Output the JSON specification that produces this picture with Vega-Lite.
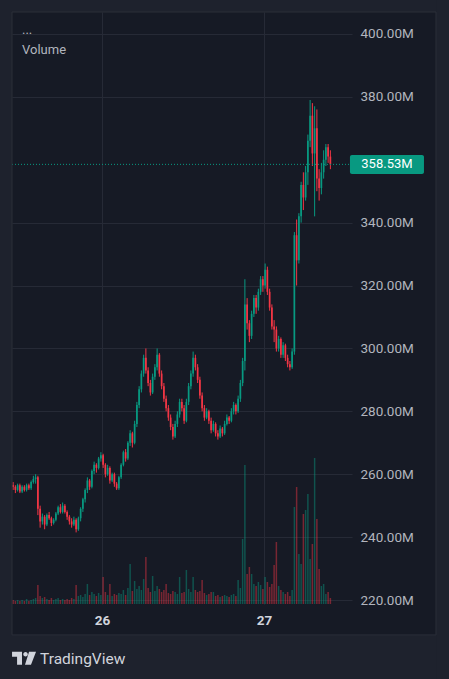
{
"$schema": "https://vega.github.io/schema/vega-lite/v6.json",
"width": 340, "height": 592,
"autosize": {"type": "none"},
"padding": {"left": 12, "top": 12, "right": 97, "bottom": 75},
"background": "#161a25",
"config": {"view": {"stroke": null}, "font": "Roboto", "scale": {"continuousPadding": 0}},
"data": {"values": [
{"t":"2024-01-25T10:50","o":256.5,"h":257.5,"l":255,"c":256,"v":4},
{"t":"2024-01-25T11:10","o":256,"h":256.5,"l":254,"c":255,"v":3},
{"t":"2024-01-25T11:30","o":255,"h":257,"l":254.5,"c":256.5,"v":4},
{"t":"2024-01-25T11:50","o":256.5,"h":257,"l":254,"c":254.5,"v":3},
{"t":"2024-01-25T12:10","o":254.5,"h":256.5,"l":254,"c":256,"v":4},
{"t":"2024-01-25T12:30","o":256,"h":256.5,"l":254.5,"c":255,"v":3},
{"t":"2024-01-25T12:50","o":255,"h":257,"l":254.5,"c":256.5,"v":5},
{"t":"2024-01-25T13:10","o":256.5,"h":257,"l":255,"c":255.5,"v":3},
{"t":"2024-01-25T13:30","o":255.5,"h":258,"l":255,"c":257.5,"v":4},
{"t":"2024-01-25T13:50","o":257.5,"h":259.5,"l":257,"c":258.5,"v":5},
{"t":"2024-01-25T14:10","o":258.5,"h":260,"l":257,"c":259,"v":6},
{"t":"2024-01-25T14:30","o":259,"h":259.5,"l":247,"c":249,"v":19},
{"t":"2024-01-25T14:50","o":249,"h":250,"l":243,"c":245,"v":8},
{"t":"2024-01-25T15:10","o":245,"h":247.5,"l":244,"c":246.5,"v":6},
{"t":"2024-01-25T15:30","o":246.5,"h":247,"l":242.5,"c":244,"v":7},
{"t":"2024-01-25T15:50","o":244,"h":247.5,"l":243.5,"c":247,"v":5},
{"t":"2024-01-25T16:10","o":247,"h":248,"l":245.5,"c":246,"v":4},
{"t":"2024-01-25T16:30","o":246,"h":246.5,"l":243.5,"c":244.5,"v":6},
{"t":"2024-01-25T16:50","o":244.5,"h":246,"l":244,"c":245.5,"v":4},
{"t":"2024-01-25T17:10","o":245.5,"h":248,"l":245,"c":247.5,"v":5},
{"t":"2024-01-25T17:30","o":247.5,"h":250,"l":247,"c":249.5,"v":6},
{"t":"2024-01-25T17:50","o":249.5,"h":250.5,"l":247.5,"c":248,"v":4},
{"t":"2024-01-25T18:10","o":248,"h":251,"l":247.5,"c":250,"v":5},
{"t":"2024-01-25T18:30","o":250,"h":250.5,"l":247.5,"c":248,"v":4},
{"t":"2024-01-25T18:50","o":248,"h":248.5,"l":245.5,"c":246.5,"v":5},
{"t":"2024-01-25T19:10","o":246.5,"h":247,"l":244,"c":245,"v":4},
{"t":"2024-01-25T19:30","o":245,"h":246,"l":243,"c":244,"v":6},
{"t":"2024-01-25T19:50","o":244,"h":246.5,"l":243.5,"c":245.5,"v":5},
{"t":"2024-01-25T20:10","o":245.5,"h":246,"l":241.5,"c":242.5,"v":19},
{"t":"2024-01-25T20:30","o":242.5,"h":246.5,"l":242,"c":246,"v":8},
{"t":"2024-01-25T20:50","o":246,"h":249.5,"l":245,"c":249,"v":9},
{"t":"2024-01-25T21:10","o":249,"h":252.5,"l":248,"c":252,"v":7},
{"t":"2024-01-25T21:30","o":252,"h":255.5,"l":251,"c":255,"v":10},
{"t":"2024-01-25T21:50","o":255,"h":259,"l":254,"c":258,"v":20},
{"t":"2024-01-25T22:10","o":258,"h":258.5,"l":255,"c":256,"v":9},
{"t":"2024-01-25T22:30","o":256,"h":261.5,"l":255.5,"c":261,"v":12},
{"t":"2024-01-25T22:50","o":261,"h":264,"l":260,"c":263,"v":10},
{"t":"2024-01-25T23:10","o":263,"h":263.5,"l":260.5,"c":262,"v":8},
{"t":"2024-01-25T23:30","o":262,"h":265.5,"l":261.5,"c":265,"v":11},
{"t":"2024-01-25T23:50","o":265,"h":267,"l":264,"c":266,"v":9},
{"t":"2024-01-26T00:10","o":266,"h":266.5,"l":262,"c":263,"v":27},
{"t":"2024-01-26T00:30","o":263,"h":263.5,"l":259,"c":260,"v":12},
{"t":"2024-01-26T00:50","o":260,"h":263,"l":259.5,"c":262,"v":9},
{"t":"2024-01-26T01:10","o":262,"h":262.5,"l":257,"c":258,"v":20},
{"t":"2024-01-26T01:30","o":258,"h":260.5,"l":257.5,"c":260,"v":8},
{"t":"2024-01-26T01:50","o":260,"h":260.5,"l":256,"c":257,"v":10},
{"t":"2024-01-26T02:10","o":257,"h":257.5,"l":255,"c":255.5,"v":9},
{"t":"2024-01-26T02:30","o":255.5,"h":259.5,"l":255,"c":259,"v":11},
{"t":"2024-01-26T02:50","o":259,"h":263.5,"l":258.5,"c":263,"v":10},
{"t":"2024-01-26T03:10","o":263,"h":267.5,"l":262.5,"c":267,"v":14},
{"t":"2024-01-26T03:30","o":267,"h":268,"l":264,"c":265,"v":9},
{"t":"2024-01-26T03:50","o":265,"h":270.5,"l":264.5,"c":270,"v":16},
{"t":"2024-01-26T04:10","o":270,"h":274,"l":269,"c":273,"v":40},
{"t":"2024-01-26T04:30","o":273,"h":273.5,"l":268.5,"c":270,"v":13},
{"t":"2024-01-26T04:50","o":270,"h":277,"l":269.5,"c":276,"v":23},
{"t":"2024-01-26T05:10","o":276,"h":283,"l":275,"c":282,"v":15},
{"t":"2024-01-26T05:30","o":282,"h":288,"l":281,"c":287,"v":18},
{"t":"2024-01-26T05:50","o":287,"h":293,"l":286,"c":292,"v":14},
{"t":"2024-01-26T06:10","o":292,"h":298,"l":291,"c":297,"v":25},
{"t":"2024-01-26T06:30","o":297,"h":300,"l":292,"c":293,"v":47},
{"t":"2024-01-26T06:50","o":293,"h":294,"l":288,"c":289,"v":16},
{"t":"2024-01-26T07:10","o":289,"h":290,"l":285,"c":286,"v":12},
{"t":"2024-01-26T07:30","o":286,"h":292,"l":285.5,"c":291,"v":28},
{"t":"2024-01-26T07:50","o":291,"h":295,"l":290,"c":294,"v":13},
{"t":"2024-01-26T08:10","o":294,"h":300,"l":293,"c":298,"v":18},
{"t":"2024-01-26T08:30","o":298,"h":298.5,"l":291,"c":292,"v":15},
{"t":"2024-01-26T08:50","o":292,"h":293,"l":287,"c":288,"v":12},
{"t":"2024-01-26T09:10","o":288,"h":289,"l":283,"c":284,"v":14},
{"t":"2024-01-26T09:30","o":284,"h":285,"l":280,"c":281,"v":20},
{"t":"2024-01-26T09:50","o":281,"h":282,"l":277,"c":278,"v":11},
{"t":"2024-01-26T10:10","o":278,"h":279,"l":274,"c":275,"v":10},
{"t":"2024-01-26T10:30","o":275,"h":276,"l":271,"c":272,"v":13},
{"t":"2024-01-26T10:50","o":272,"h":277,"l":271.5,"c":276,"v":12},
{"t":"2024-01-26T11:10","o":276,"h":280,"l":275,"c":279,"v":10},
{"t":"2024-01-26T11:30","o":279,"h":284,"l":278,"c":283,"v":27},
{"t":"2024-01-26T11:50","o":283,"h":284,"l":280,"c":281,"v":11},
{"t":"2024-01-26T12:10","o":281,"h":282,"l":276,"c":277,"v":12},
{"t":"2024-01-26T12:30","o":277,"h":284,"l":276.5,"c":283,"v":34},
{"t":"2024-01-26T12:50","o":283,"h":289,"l":282,"c":288,"v":15},
{"t":"2024-01-26T13:10","o":288,"h":293,"l":287,"c":292,"v":12},
{"t":"2024-01-26T13:30","o":292,"h":299,"l":291,"c":297,"v":27},
{"t":"2024-01-26T13:50","o":297,"h":298,"l":293,"c":294,"v":14},
{"t":"2024-01-26T14:10","o":294,"h":295,"l":289,"c":290,"v":12},
{"t":"2024-01-26T14:30","o":290,"h":291,"l":284,"c":285,"v":13},
{"t":"2024-01-26T14:50","o":285,"h":286,"l":280,"c":281,"v":24},
{"t":"2024-01-26T15:10","o":281,"h":282,"l":277,"c":278,"v":11},
{"t":"2024-01-26T15:30","o":278,"h":281,"l":277.5,"c":280,"v":9},
{"t":"2024-01-26T15:50","o":280,"h":280.5,"l":276,"c":277,"v":10},
{"t":"2024-01-26T16:10","o":277,"h":278,"l":273,"c":274,"v":12},
{"t":"2024-01-26T16:30","o":274,"h":277,"l":273.5,"c":276,"v":12},
{"t":"2024-01-26T16:50","o":276,"h":276.5,"l":272,"c":273,"v":8},
{"t":"2024-01-26T17:10","o":273,"h":274,"l":271,"c":272,"v":9},
{"t":"2024-01-26T17:30","o":272,"h":275.5,"l":271.5,"c":274.5,"v":7},
{"t":"2024-01-26T17:50","o":274.5,"h":275,"l":272,"c":273,"v":8},
{"t":"2024-01-26T18:10","o":273,"h":277,"l":272.5,"c":276,"v":9},
{"t":"2024-01-26T18:30","o":276,"h":279,"l":275.5,"c":278,"v":8},
{"t":"2024-01-26T18:50","o":278,"h":278.5,"l":276,"c":277,"v":7},
{"t":"2024-01-26T19:10","o":277,"h":281,"l":276.5,"c":280,"v":9},
{"t":"2024-01-26T19:30","o":280,"h":283,"l":279,"c":282,"v":10},
{"t":"2024-01-26T19:50","o":282,"h":282.5,"l":279,"c":280,"v":8},
{"t":"2024-01-26T20:10","o":280,"h":285,"l":279.5,"c":284,"v":24},
{"t":"2024-01-26T20:30","o":284,"h":290,"l":283,"c":289,"v":16},
{"t":"2024-01-26T20:50","o":289,"h":297,"l":288,"c":296,"v":65},
{"t":"2024-01-26T21:10","o":296,"h":322,"l":293,"c":314,"v":139},
{"t":"2024-01-26T21:30","o":314,"h":316,"l":306,"c":308,"v":30},
{"t":"2024-01-26T21:50","o":308,"h":309,"l":302,"c":304,"v":37},
{"t":"2024-01-26T22:10","o":304,"h":312,"l":303,"c":311,"v":30},
{"t":"2024-01-26T22:30","o":311,"h":317,"l":310,"c":316,"v":20},
{"t":"2024-01-26T22:50","o":316,"h":317,"l":311,"c":313,"v":18},
{"t":"2024-01-26T23:10","o":313,"h":319,"l":312,"c":318,"v":22},
{"t":"2024-01-26T23:30","o":318,"h":323,"l":317,"c":322,"v":19},
{"t":"2024-01-26T23:50","o":322,"h":323,"l":318,"c":320,"v":15},
{"t":"2024-01-27T00:10","o":320,"h":327,"l":319,"c":325,"v":27},
{"t":"2024-01-27T00:30","o":325,"h":326,"l":317,"c":318,"v":22},
{"t":"2024-01-27T00:50","o":318,"h":319,"l":312,"c":313,"v":17},
{"t":"2024-01-27T01:10","o":313,"h":314,"l":306,"c":307,"v":20},
{"t":"2024-01-27T01:30","o":307,"h":309,"l":302,"c":306,"v":39},
{"t":"2024-01-27T01:50","o":306,"h":307,"l":299,"c":300,"v":62},
{"t":"2024-01-27T02:10","o":300,"h":304,"l":299,"c":303,"v":18},
{"t":"2024-01-27T02:30","o":303,"h":303.5,"l":297,"c":298,"v":14},
{"t":"2024-01-27T02:50","o":298,"h":302,"l":297,"c":301,"v":12},
{"t":"2024-01-27T03:10","o":301,"h":301.5,"l":296,"c":297,"v":10},
{"t":"2024-01-27T03:30","o":297,"h":298,"l":294,"c":295,"v":12},
{"t":"2024-01-27T03:50","o":295,"h":296,"l":293,"c":294,"v":8},
{"t":"2024-01-27T04:10","o":294,"h":300,"l":293.5,"c":299,"v":14},
{"t":"2024-01-27T04:30","o":299,"h":337,"l":298,"c":336,"v":97},
{"t":"2024-01-27T04:50","o":336,"h":341,"l":320,"c":328,"v":117},
{"t":"2024-01-27T05:10","o":328,"h":343,"l":327,"c":342,"v":50},
{"t":"2024-01-27T05:30","o":342,"h":353,"l":340,"c":352,"v":40},
{"t":"2024-01-27T05:50","o":352,"h":356,"l":344,"c":348,"v":90},
{"t":"2024-01-27T06:10","o":348,"h":358,"l":347,"c":356,"v":94},
{"t":"2024-01-27T06:30","o":356,"h":368,"l":352,"c":366,"v":110},
{"t":"2024-01-27T06:50","o":366,"h":379,"l":364,"c":374,"v":45},
{"t":"2024-01-27T07:10","o":374,"h":378,"l":358,"c":362,"v":60},
{"t":"2024-01-27T07:30","o":362,"h":377,"l":342,"c":370,"v":146},
{"t":"2024-01-27T07:50","o":370,"h":376,"l":350,"c":354,"v":85},
{"t":"2024-01-27T08:10","o":354,"h":357,"l":347,"c":351,"v":35},
{"t":"2024-01-27T08:30","o":351,"h":359,"l":349,"c":356,"v":18},
{"t":"2024-01-27T08:50","o":356,"h":363,"l":354,"c":360,"v":20},
{"t":"2024-01-27T09:10","o":360,"h":365,"l":358,"c":364,"v":10},
{"t":"2024-01-27T09:30","o":364,"h":365,"l":359,"c":361,"v":12},
{"t":"2024-01-27T09:50","o":361,"h":363,"l":357,"c":358.53,"v":6}
]},
"layer": [
{
"mark": {"type": "bar", "size": 1.5, "opacity": 0.45},
"encoding": {
"x": {"field": "t", "type": "temporal", "title": null},
"y": {"field": "v", "type": "quantitative", "axis": null, "scale": {"domain": [0, 592], "nice": false, "padding": 0}},
"color": {"condition": {"test": "datum.c >= datum.o", "value": "#089981"}, "value": "#f23645"}
}
},
{
"mark": {"type": "rule", "strokeWidth": 1},
"encoding": {
"x": {"field": "t", "type": "temporal", "title": null,
"scale": {"padding": 0, "domain": [{"year":2024,"month":1,"date":25,"hours":10,"minutes":40},{"year":2024,"month":1,"date":27,"hours":13,"minutes":2,"seconds":13}]},
"axis": {"format": "%-d", "tickCount": {"interval": "day", "step": 1}, "labelFontSize": 13.5, "labelFontWeight": "bold", "labelColor": "#d1d4dc", "labelPadding": 9, "grid": true, "gridColor": "#262a36", "domain": false, "ticks": false, "title": null}},
"y": {"field": "l", "type": "quantitative", "title": null, "scale": {"domain": [218.73, 406.98], "nice": false, "zero": false, "padding": 0},
"axis": {"orient": "right", "values": [220, 240, 260, 280, 300, 320, 340, 380, 400], "labelExpr": "format(datum.value, '.2f') + 'M'", "labelAlign": "left", "labelBaseline": "middle", "labelPadding": 8, "labelFontSize": 13.5, "labelColor": "#b2b5be", "grid": true, "gridColor": "#262a36", "domain": false, "ticks": false, "title": null}},
"y2": {"field": "h"},
"color": {"condition": {"test": "datum.c >= datum.o", "value": "#089981"}, "value": "#f23645"}
}
},
{
"mark": {"type": "bar", "size": 1.7},
"encoding": {
"x": {"field": "t", "type": "temporal", "title": null},
"y": {"field": "o", "type": "quantitative", "axis": null, "scale": {"domain": [218.73, 406.98], "nice": false, "zero": false, "padding": 0}},
"y2": {"field": "c"},
"color": {"condition": {"test": "datum.c >= datum.o", "value": "#089981"}, "value": "#f23645"}
}
},
{
"data": {"values": [{}]},
"mark": {"type": "rule", "color": "#089981", "strokeDash": [1, 2], "strokeWidth": 1},
"encoding": {"y": {"datum": 358.53, "type": "quantitative", "axis": null, "scale": {"domain": [218.73, 406.98], "nice": false, "zero": false, "padding": 0}}}
},
{
"data": {"values": [{}]},
"mark": {"type": "rect", "color": "#089981", "cornerRadius": 2},
"encoding": {
"x": {"datum": {"year":2024,"month":1,"date":27,"hours":12,"minutes":44}, "type": "temporal", "title": null},
"x2": {"datum": {"year":2024,"month":1,"date":27,"hours":23,"minutes":42}},
"y": {"datum": 355.5, "type": "quantitative", "axis": null, "scale": {"domain": [218.73, 406.98], "nice": false, "zero": false, "padding": 0}},
"y2": {"datum": 361.5}
}
},
{
"data": {"values": [{"label": "358.53M"}]},
"mark": {"type": "text", "color": "#ffffff", "fontSize": 13, "align": "center", "baseline": "middle"},
"encoding": {
"x": {"datum": {"year":2024,"month":1,"date":27,"hours":18,"minutes":13}, "type": "temporal", "title": null},
"y": {"datum": 358.53, "type": "quantitative", "axis": null, "scale": {"domain": [218.73, 406.98], "nice": false, "zero": false, "padding": 0}},
"text": {"field": "label"}
}
},
{
"data": {"values": [{"label": "..."}]},
"mark": {"type": "text", "color": "#b2b5be", "fontSize": 13, "align": "left", "baseline": "alphabetic"},
"encoding": {
"x": {"datum": {"year":2024,"month":1,"date":25,"hours":12,"minutes":9}, "type": "temporal", "title": null},
"y": {"datum": 400, "type": "quantitative", "axis": null, "scale": {"domain": [218.73, 406.98], "nice": false, "zero": false, "padding": 0}},
"text": {"field": "label"}
}
},
{
"data": {"values": [{"label": "Volume"}]},
"mark": {"type": "text", "color": "#b2b5be", "fontSize": 13, "align": "left", "baseline": "middle"},
"encoding": {
"x": {"datum": {"year":2024,"month":1,"date":25,"hours":12,"minutes":9}, "type": "temporal", "title": null},
"y": {"datum": 394.9, "type": "quantitative", "axis": null, "scale": {"domain": [218.73, 406.98], "nice": false, "zero": false, "padding": 0}},
"text": {"field": "label"}
}
},
{
"data": {"values": [{}]},
"mark": {"type": "rect", "color": "#1e222d"},
"encoding": {
"x": {"datum": {"year":2024,"month":1,"date":25,"hours":8}, "type": "temporal", "title": null},
"x2": {"datum": {"year":2024,"month":1,"date":28,"hours":5}},
"y": {"datum": 406.98, "type": "quantitative", "axis": null, "scale": {"domain": [218.73, 406.98], "nice": false, "zero": false, "padding": 0}},
"y2": {"datum": 415}
}
},
{
"data": {"values": [{}]},
"mark": {"type": "rect", "color": "#1e222d"},
"encoding": {
"x": {"datum": {"year":2024,"month":1,"date":25,"hours":8}, "type": "temporal", "title": null},
"x2": {"datum": {"year":2024,"month":1,"date":28,"hours":5}},
"y": {"datum": 185, "type": "quantitative", "axis": null, "scale": {"domain": [218.73, 406.98], "nice": false, "zero": false, "padding": 0}},
"y2": {"datum": 208.9}
}
},
{
"data": {"values": [{}]},
"mark": {"type": "rect", "color": "#1e222d"},
"encoding": {
"x": {"datum": {"year":2024,"month":1,"date":25,"hours":8}, "type": "temporal", "title": null},
"x2": {"datum": {"year":2024,"month":1,"date":25,"hours":10,"minutes":40}},
"y": {"datum": 185, "type": "quantitative", "axis": null, "scale": {"domain": [218.73, 406.98], "nice": false, "zero": false, "padding": 0}},
"y2": {"datum": 415}
}
},
{
"data": {"values": [{}]},
"mark": {"type": "rect", "color": "#1e222d"},
"encoding": {
"x": {"datum": {"year":2024,"month":1,"date":28,"hours":1,"minutes":29}, "type": "temporal", "title": null},
"x2": {"datum": {"year":2024,"month":1,"date":28,"hours":5}},
"y": {"datum": 185, "type": "quantitative", "axis": null, "scale": {"domain": [218.73, 406.98], "nice": false, "zero": false, "padding": 0}},
"y2": {"datum": 415}
}
},
{
"data": {"values": [{}]},
"mark": {"type": "rect", "fillOpacity": 0, "stroke": "#2a2e39", "strokeWidth": 1},
"encoding": {
"x": {"datum": {"year":2024,"month":1,"date":25,"hours":10,"minutes":40}, "type": "temporal", "title": null},
"x2": {"datum": {"year":2024,"month":1,"date":28,"hours":1,"minutes":29}},
"y": {"datum": 208.9, "type": "quantitative", "axis": null, "scale": {"domain": [218.73, 406.98], "nice": false, "zero": false, "padding": 0}},
"y2": {"datum": 406.98}
}
},
{
"data": {"values": [{}]},
"mark": {"type": "point", "shape": "M-1,-0.54L-0.17,-0.54L-0.17,0.54L-0.58,0.54L-0.58,-0.12L-1,-0.12ZM0.42,-0.54L1,-0.54L0.58,0.54L0.08,0.54ZM-0.065,-0.33A0.19,0.19,0,1,0,0.315,-0.33A0.19,0.19,0,1,0,-0.065,-0.33Z", "size": 576, "filled": true, "color": "#d1d4dc", "opacity": 1, "strokeWidth": 0},
"encoding": {
"x": {"datum": {"year":2024,"month":1,"date":25,"hours":12,"minutes":27}, "type": "temporal", "title": null},
"y": {"datum": 201.5, "type": "quantitative", "axis": null, "scale": {"domain": [218.73, 406.98], "nice": false, "zero": false, "padding": 0}}
}
},
{
"data": {"values": [{"label": "TradingView"}]},
"mark": {"type": "text", "color": "#d1d4dc", "fontSize": 15.5, "align": "left", "baseline": "middle"},
"encoding": {
"x": {"datum": {"year":2024,"month":1,"date":25,"hours":14,"minutes":49}, "type": "temporal", "title": null},
"y": {"datum": 201.3, "type": "quantitative", "axis": null, "scale": {"domain": [218.73, 406.98], "nice": false, "zero": false, "padding": 0}},
"text": {"field": "label"}
}
}
],
"resolve": {"scale": {"y": "independent"}}
}
